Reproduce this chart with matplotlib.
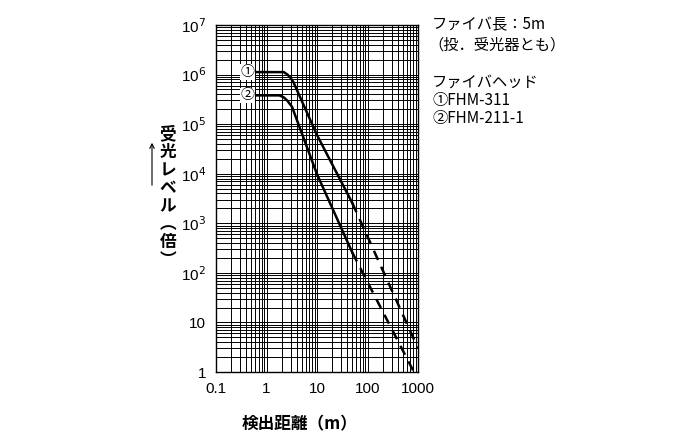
import matplotlib
matplotlib.use("Agg")
import matplotlib.pyplot as plt
import numpy as np
from matplotlib.ticker import FixedLocator, NullFormatter

plt.rcParams['font.family'] = ['Liberation Sans', 'Noto Sans CJK JP']

# data (distance m, received level as log10)
c1_x = [0.5, 2.2, 2.6, 3.0, 3.4, 10, 50]
c1_logy = [6.05, 6.05, 6.0, 5.93, 5.85, 4.78, 3.41]
c1_dash_x = [50, 1000]
c1_dash_logy = [3.41, 0.48]
c2_x = [0.5, 1.8, 2.2, 2.6, 3.2, 10, 50]
c2_logy = [5.58, 5.58, 5.54, 5.47, 5.35, 3.99, 2.41]
c2_dash_x = [50, 830]
c2_dash_logy = [2.41, 0.0]
x_ticks = [0.1, 1, 10, 100, 1000]
x_ticklabels = ['0.1', '1', '10', '100', '1000']
y_ticks = [1, 10, 1e2, 1e3, 1e4, 1e5, 1e6, 1e7]
y_ticklabels = ['1', '10', '10$^{2}$', '10$^{3}$', '10$^{4}$', '10$^{5}$', '10$^{6}$', '10$^{7}$']

fig = plt.figure(figsize=(7, 4.45), dpi=100)
ax = fig.add_axes([216/700, 1-372/445, (418-216)/700, (372-25)/445])
ax.set_xscale('log'); ax.set_yscale('log')
ax.set_xlim(0.1, 1000); ax.set_ylim(1, 1e7)

p = lambda v: 10**np.array(v)
ax.plot(c1_x, p(c1_logy), color='black', lw=1.8)
ax.plot(c1_dash_x, p(c1_dash_logy), color='black', lw=1.8, ls=(0, (4, 3)))
ax.plot(c2_x, p(c2_logy), color='black', lw=1.8)
ax.plot(c2_dash_x, p(c2_dash_logy), color='black', lw=1.8, ls=(0, (4, 3)))

ax.set_xticks(x_ticks); ax.set_xticklabels(x_ticklabels, fontsize=11)
ax.set_yticks(y_ticks); ax.set_yticklabels(y_ticklabels, fontsize=11)
ax.xaxis.set_minor_locator(FixedLocator([m*10**e for e in range(-1, 3) for m in range(2, 10)]))
ax.yaxis.set_minor_locator(FixedLocator([m*10**e for e in range(0, 7) for m in range(2, 10)]))
ax.xaxis.set_minor_formatter(NullFormatter()); ax.yaxis.set_minor_formatter(NullFormatter())
ax.tick_params(which='both', length=0, pad=7)
ax.grid(True, which='both', color='black', lw=0.7)
for s in ax.spines.values():
    s.set_linewidth(1)

jp = 'Noto Sans CJK JP'
ax.text(0.42, 10**6.05, '①', fontsize=10, ha='center', va='center', family=jp,
        bbox=dict(facecolor='white', edgecolor='none', pad=0.5))
ax.text(0.42, 10**5.58, '②', fontsize=10, ha='center', va='center', family=jp,
        bbox=dict(facecolor='white', edgecolor='none', pad=0.5))

fig.text(432/700, 1-25/445, 'ファイバ長：5m', fontsize=11, family=jp, va='center')
fig.text(428/700, 1-45/445, '（投．受光器とも）', fontsize=11, family=jp, va='center')
fig.text(432/700, 1-82/445, 'ファイバヘッド', fontsize=11, family=jp, va='center')
fig.text(432/700, 1-100/445, '①FHM-311', fontsize=11, family=jp, va='center')
fig.text(432/700, 1-118/445, '②FHM-211-1', fontsize=11, family=jp, va='center')
fig.text(168/700, 1-197/445, '受\n光\nレ\nベ\nル\n︵\n倍\n︶', fontsize=12, family=jp, weight='bold',
         ha='center', va='center', linespacing=1.0)
fig.text(300/700, 1-424/445, '検出距離（m）', fontsize=12, family=jp, weight='bold', ha='center', va='center')
fig.add_artist(matplotlib.patches.FancyArrowPatch((152/700, 1-188/445), (152/700, 1-140/445),
               transform=fig.transFigure, arrowstyle='->', mutation_scale=8, lw=0.8, color='black'))
fig.savefig('out.png', dpi=100)
